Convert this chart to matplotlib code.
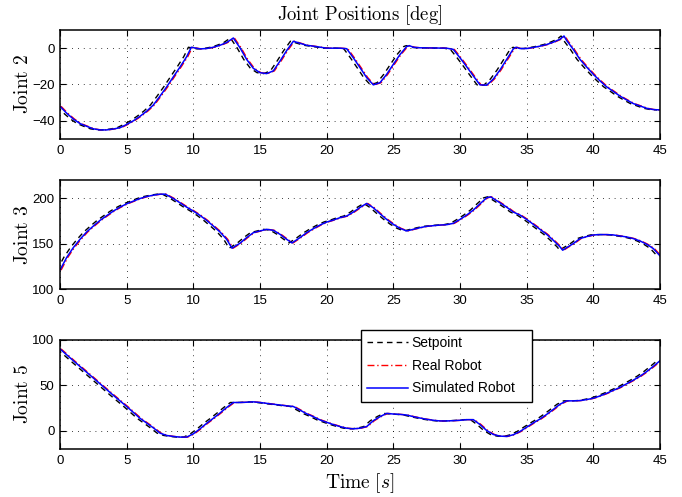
import matplotlib
matplotlib.use("Agg")
import matplotlib.pyplot as plt
import numpy as np

# ---------------- data ----------------
t2 = [0, 0.5, 1, 1.5, 2, 2.5, 3, 3.5, 4, 4.5, 5, 5.5, 6, 6.5, 7, 7.5, 8, 8.5, 9, 9.5,
      9.85, 10.5, 11, 11.5, 12, 12.5, 13, 13.5, 14, 14.5, 15, 15.5, 16, 16.5, 17, 17.5,
      18, 18.5, 19, 20, 21, 21.5, 22, 22.5, 23, 23.5, 24, 24.5, 25, 25.5, 26, 26.2,
      26.5, 27, 29, 29.5, 30, 30.5, 31, 31.5, 32, 32.5, 33, 33.5, 34, 34.2, 34.5, 35,
      35.5, 36, 36.5, 37, 37.5, 37.8, 38, 38.5, 39, 39.5, 40, 40.5, 41, 41.5, 42, 42.5,
      43, 43.5, 44, 44.5, 45]
joint2 = [-32, -35.8, -39, -41.5, -43, -44.4, -45, -45, -44.5, -43.8, -42, -40, -37.5,
          -34.7, -31.3, -26.4, -21.3, -15.8, -10.4, -4.7,
          0.5, -0.4, -0.2, 0.5, 1.6, 3.1, 5.6, 0.2, -6.2, -11.1, -13.5, -14, -12.5, -7.1,
          -1.3, 3.8,
          2.7, 1.6, 1.1, 0, 0, -0.3, -5.3, -10.7, -16.2, -20.2, -19, -14.4, -8.9, -3.5,
          0.9, 1.4,
          0.5, 0.2, 0, -0.7, -5.3, -10.2, -15.3, -20.2, -20.4, -17, -12, -6.2, -0.4, 0.5,
          -0.2, -0.2,
          0.4, 1.1, 2, 3.3, 4.9, 6.7, 4.2, -0.7, -6.2, -10.4, -14.4, -18, -21.3, -23.8,
          -26.4, -28.5,
          -30.5, -31.8, -33.1, -33.8, -34]

t3 = [0, 0.5, 1, 1.5, 2, 2.5, 3, 3.5, 4, 4.5, 5, 5.5, 6, 6.5, 7, 7.5, 7.9, 8.5, 9, 9.5,
      10, 10.5, 11, 11.5, 12, 12.5, 12.9, 13.5, 14, 14.5, 15, 15.5, 16, 16.5, 17, 17.4,
      18, 18.5, 19, 19.5, 20, 20.5, 21, 21.5, 22, 22.5, 23, 23.5, 24, 24.5, 25, 25.5,
      26, 26.5, 27, 27.5, 28, 28.5, 29, 29.5, 30, 30.5, 31, 31.5, 32, 32.3, 32.5, 33,
      33.5, 34, 34.5, 35, 35.5, 36, 36.5, 37, 37.5, 37.7, 38, 38.5, 39, 39.5, 40, 40.5,
      41, 41.5, 42, 42.5, 43, 43.5, 44, 44.5, 45]
joint3 = [120.8, 134.7, 145.6, 154.7, 162.8, 169.3, 175.5, 180.7, 185.8, 190.1, 193.8,
          196.7, 199.6, 201.8, 203.3, 204.4, 204.4, 199.6, 194.9, 190.1,
          185.8, 181, 175.5, 169.3, 162.8, 154.7, 144.9, 150.4, 156.6, 162, 163.9, 165.7,
          164.6, 160.2, 154.7, 150.7,
          156.6, 162, 166.4, 170.4, 173.7, 175.9, 178.5, 180.3, 184.7, 189.8, 194.2, 189.4,
          182.8, 176.6, 171.2, 166.8,
          163.9, 165.7, 167.5, 169, 169.7, 170.4, 170.8, 172.3, 176.6, 181.4, 186.9, 193.8,
          200.4, 201.5, 199.6, 194.9,
          190.1, 184.7, 181.4, 176.6, 171.2, 165.7, 160.2, 153.6, 146.4, 142.7, 145.6, 150,
          155.5, 157.7, 159.5, 159.9,
          159.9, 159.5, 158.4, 157.3, 155.5, 152.9, 149.3, 144.5, 136.5]

t5 = [0, 1, 2, 3, 4, 5, 6, 7, 7.5, 8, 8.5, 9, 9.5, 10, 10.5, 11, 11.5, 12, 12.5, 13,
      13.5, 14, 14.5, 15, 16, 17, 17.5, 18, 18.5, 19, 19.5, 20, 20.5, 21, 21.5, 22, 22.5,
      23, 23.5, 24, 24.5, 25, 25.5, 26, 26.5, 27, 27.5, 28, 28.5, 29, 29.5, 30, 30.5, 31,
      31.5, 32, 32.5, 33, 33.5, 34, 34.5, 35, 35.5, 36, 36.5, 37, 37.5, 38, 38.5, 39,
      39.5, 40, 40.5, 41, 41.5, 42, 42.5, 43, 43.5, 44, 44.5, 45]
joint5 = [90.2, 77.2, 64.5, 51.8, 39.1, 26.8, 13.8, 3.3, -2.5, -5.1, -6.2, -6.9, -6.9,
          -3.3, 2.2, 8.3, 13.8, 19.6, 25.7, 31.2,
          31.2, 31.5, 31.9, 31.2, 29.3, 27.5, 26.8, 22.8, 18.8, 15.6, 12, 9.4, 6.9, 4.7,
          2.9, 2.2, 2.9,
          4.7, 11.2, 15.6, 19.2, 18.5, 18.1, 17.4, 15.6, 14.1, 12.7, 11.6, 10.9, 10.9, 11.2,
          11.6, 12.3, 12.3,
          6.9, 0.4, -4, -5.8, -6.2, -4.3, -0.7, 4, 8.7, 13, 18.1, 23.6, 29.3, 33, 33, 33.3,
          34.4, 35.9, 38.4, 41.3, 44.6, 47.8, 51.8, 55.8, 60.1, 65.2, 71, 77.2]

# estimated timing offsets of the setpoint (leads) and real robot (lags) vs. simulation
setpoint_lead = 0.22
real_lag = 0.08

series_labels = ["Setpoint", "Real Robot", "Simulated Robot"]
ylabels = ["Joint 2", "Joint 3", "Joint 5"]
ylims = [(-50, 10), (100, 220), (-20, 100)]
yticks = [[-40, -20, 0], [100, 150, 200], [0, 50, 100]]
xticks = [0, 5, 10, 15, 20, 25, 30, 35, 40, 45]
title = "Joint Positions [deg]"

# ---------------- plotting ----------------
plt.rcParams["mathtext.fontset"] = "cm"
plt.rcParams["font.family"] = ["Liberation Sans", "DejaVu Sans"]

fig = plt.figure(figsize=(6.82, 4.97), dpi=100)
left, width, height = 60 / 682, 600 / 682, 109 / 497
bottoms = [1 - 139 / 497, 1 - 289 / 497, 1 - 449 / 497]

data = [(t2, joint2), (t3, joint3), (t5, joint5)]
axes = []
for i, (tt, vv) in enumerate(data):
    ax = fig.add_axes([left, bottoms[i], width, height])
    axes.append(ax)
    tt = np.asarray(tt, dtype=float)
    ax.plot(tt - setpoint_lead, vv, color="black", ls=(0, (4, 3)), lw=1.0,
            label=series_labels[0])
    ax.plot(tt + real_lag, vv, color="red", ls=(0, (5, 2, 1, 2)), lw=1.0,
            label=series_labels[1])
    ax.plot(tt, vv, color="blue", ls="-", lw=1.1, label=series_labels[2])
    ax.set_xlim(0, 45)
    ax.set_ylim(*ylims[i])
    ax.set_xticks(xticks)
    ax.set_yticks(yticks[i])
    ax.tick_params(direction="in", top=True, right=True, length=4, width=0.8,
                   labelsize=9.5, pad=4)
    ax.grid(True, color="black", ls=(0, (1, 6)), lw=0.6)
    for s in ax.spines.values():
        s.set_linewidth(1.1)
    ax.set_ylabel(r"$\mathrm{" + ylabels[i].replace(" ", r"\ ") + "}$", fontsize=14,
                  labelpad=0)

axes[0].set_title(r"$\mathrm{Joint\ Positions\ [deg]}$", fontsize=13.5, pad=7)
axes[2].set_xlabel(r"$\mathrm{Time}\ [s]$", fontsize=14, labelpad=3)

x0, y0 = 361 / 682, 1 - 395 / 497
w, h = (532 - 361) / 682, (395 - 330) / 497
leg = axes[2].legend(loc="upper left", bbox_to_anchor=(x0, y0, w, h),
                     bbox_transform=fig.transFigure, borderaxespad=0, fontsize=10,
                     frameon=True, fancybox=False, framealpha=1, edgecolor="black",
                     handlelength=2.9, handletextpad=0.3, labelspacing=0.62,
                     borderpad=0.45, mode="expand")
leg.get_frame().set_linewidth(1.0)
leg.set_zorder(10)

fig.savefig("out.png", dpi=100)
